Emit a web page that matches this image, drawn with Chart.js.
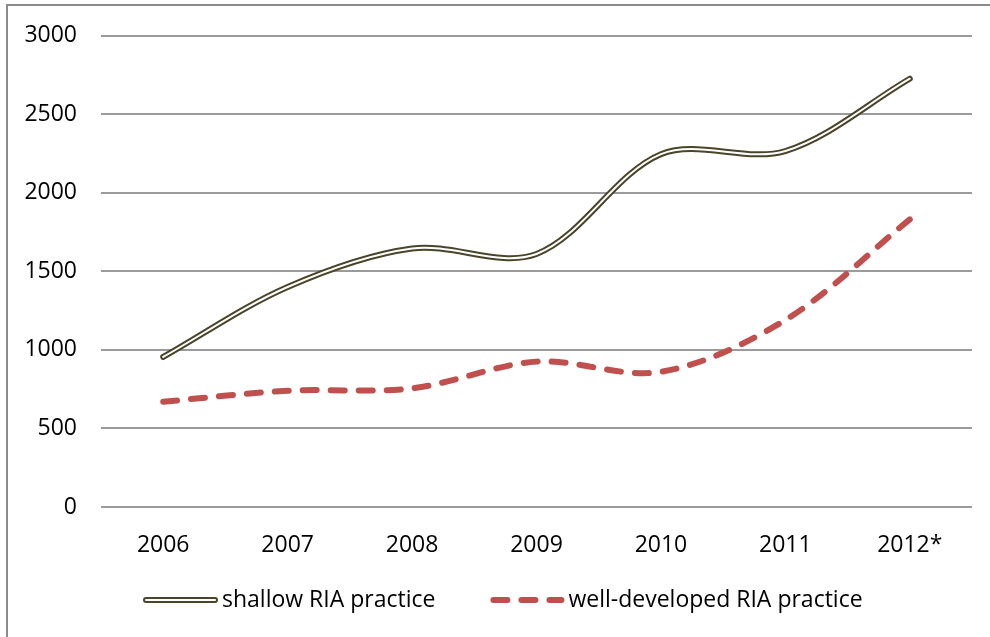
<!DOCTYPE html>
<html>
<head>
<meta charset="utf-8">
<script src="https://cdn.jsdelivr.net/npm/chart.js@4/dist/chart.umd.min.js"></script>
<style>
  html, body { margin: 0; padding: 0; background: #fff; }
  canvas { display: block; }
</style>
</head>
<body>
<canvas id="chart" width="990" height="637"></canvas>
<script>
// data
const years = ["2006", "2007", "2008", "2009", "2010", "2011", "2012*"];
const shallow = [955, 1400, 1645, 1610, 2245, 2265, 2725];
const wellDeveloped = [670, 740, 755, 925, 860, 1190, 1830];
const yTicks = [0, 500, 1000, 1500, 2000, 2500, 3000];

const seriesNames = ["shallow RIA practice", "well-developed RIA practice"];

const FONT = "'Open Sans', 'DejaVu Sans', sans-serif";
const oliveDark = "#4a452a";
const red = "#c0504d";

// grey frame round the whole chart (runs off the right and bottom edge)
const framePlugin = {
  id: "frame",
  beforeDraw(chart) {
    const ctx = chart.ctx;
    ctx.save();
    ctx.fillStyle = "#fff";
    ctx.fillRect(0, 0, chart.width, chart.height);
    ctx.strokeStyle = "#8a8a8a";
    ctx.lineWidth = 2;
    ctx.strokeRect(7, 5, chart.width + 20, chart.height + 20);
    ctx.restore();
  },
};

// legend drawn by hand so the double line can be shown
const legendPlugin = {
  id: "ownLegend",
  afterDraw(chart) {
    const ctx = chart.ctx;
    const sampleW = 75;
    const textGap = 4;
    const itemGap = 54;
    let x = 143;
    const y = 600;
    ctx.save();
    ctx.font = "23px " + FONT;
    ctx.textBaseline = "middle";
    ctx.fillStyle = "#000";
    ctx.lineCap = "round";

    seriesNames.forEach(function (name, i) {
      if (i == 0) {
        ctx.setLineDash([]);
        ctx.strokeStyle = oliveDark;
        ctx.lineWidth = 6;
        ctx.beginPath();
        ctx.moveTo(x + 3, y);
        ctx.lineTo(x + sampleW - 3, y);
        ctx.stroke();
        ctx.strokeStyle = "#fff";
        ctx.lineWidth = 2;
        ctx.stroke();
      } else {
        ctx.setLineDash([14, 14]);
        ctx.strokeStyle = red;
        ctx.lineWidth = 6;
        ctx.beginPath();
        ctx.moveTo(x + 4, y);
        ctx.lineTo(x + sampleW - 3, y);
        ctx.stroke();
      }
      ctx.setLineDash([]);
      ctx.fillText(name, x + sampleW + textGap, y);
      x += sampleW + textGap + ctx.measureText(name).width + itemGap;
    });
    ctx.restore();
  },
};

const config = {
  type: "line",
  data: {
    labels: years,
    datasets: [
      {
        label: seriesNames[0] + " (inner)",
        data: shallow,
        borderColor: "#fff",
        borderWidth: 2,
        borderCapStyle: "round",
        pointRadius: 0,
        tension: 0.33,
        fill: false,
        order: 0,
      },
      {
        label: seriesNames[0],
        data: shallow,
        borderColor: oliveDark,
        borderWidth: 6,
        borderCapStyle: "round",
        pointRadius: 0,
        tension: 0.33,
        fill: false,
        order: 1,
      },
      {
        label: seriesNames[1],
        data: wellDeveloped,
        borderColor: red,
        borderWidth: 6,
        borderDash: [14, 14],
        borderCapStyle: "round",
        pointRadius: 0,
        tension: 0.33,
        fill: false,
        order: 2,
      },
    ],
  },
  options: {
    responsive: false,
    animation: false,
    events: [],
    layout: {
      padding: { top: 35, right: 18, bottom: 77, left: 0 },
    },
    plugins: {
      legend: { display: false },
      tooltip: { enabled: false },
    },
    scales: {
      x: {
        offset: true,
        afterFit(scale) {
          scale.height = 53;
        },
        grid: { display: false, drawTicks: false },
        border: { display: false },
        ticks: {
          color: "#000",
          font: { family: FONT, size: 23 },
          padding: 25,
          maxRotation: 0,
          autoSkip: false,
        },
      },
      y: {
        min: 0,
        max: 3000,
        afterFit(scale) {
          scale.width = 101;
        },
        afterBuildTicks(scale) {
          scale.ticks = yTicks.map((v) => ({ value: v }));
        },
        grid: {
          color: "#9b9b9b",
          lineWidth: 2,
          drawTicks: false,
        },
        border: { display: false },
        ticks: {
          color: "#000",
          font: { family: FONT, size: 23, lineHeight: 1 },
          padding: 24,
          callback: (v) => String(v),
        },
      },
    },
  },
  plugins: [framePlugin, legendPlugin],
};

var ctx = document.getElementById("chart").getContext("2d");
var myChart = new Chart(ctx, config);
</script>
</body>
</html>
